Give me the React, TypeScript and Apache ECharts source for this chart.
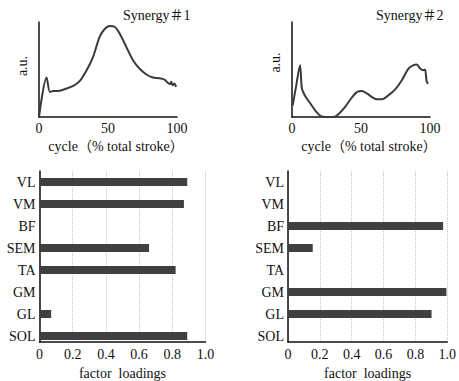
import React, { useEffect, useRef } from 'react';
import * as echarts from 'echarts';

const muscles = ['VL', 'VM', 'BF', 'SEM', 'TA', 'GM', 'GL', 'SOL'];
const loadings1 = [0.89, 0.87, 0, 0.66, 0.82, 0, 0.07, 0.89];
const loadings2 = [0, 0, 0.94, 0.15, 0, 0.96, 0.87, 0];

const syn1Cycle = [0, 5.5, 7.9, 10.3, 14, 20, 24.8, 29.6, 34.4, 39.2, 44, 47.6, 51.2, 54.8, 58.4, 63.2, 68, 72.8, 77.6, 82.5, 87.3, 90.9, 93.3, 95, 95.7, 96.9, 98.1, 99.3];
const syn1Value = [0, 0.415, 0.264, 0.275, 0.275, 0.3, 0.327, 0.38, 0.49, 0.634, 0.845, 0.926, 0.958, 0.95, 0.88, 0.74, 0.6, 0.51, 0.45, 0.415, 0.408, 0.394, 0.36, 0.345, 0.37, 0.335, 0.352, 0.317];

const syn2Cycle = [0.5, 2.9, 5.8, 7.2, 10, 13.7, 17.3, 20.9, 24.5, 30.5, 34, 38.8, 43.6, 47.2, 50.8, 54.4, 58, 61.6, 65.2, 70, 74.8, 79.6, 84.4, 88, 90.4, 92.8, 95.2, 96.4, 97.6, 98.8];
const syn2Value = [0.123, 0.317, 0.546, 0.3, 0.21, 0.134, 0.06, 0.01, 0, 0, 0.035, 0.113, 0.21, 0.264, 0.275, 0.246, 0.21, 0.187, 0.187, 0.23, 0.29, 0.387, 0.51, 0.546, 0.553, 0.51, 0.493, 0.5, 0.37, 0.352];

const titles = ['Synergy＃1', 'Synergy＃2'];
const cycleTicks = [0, 50, 100];
const loadingTicks = [0, 0.2, 0.4, 0.6, 0.8, 1.0];

export default function App() {
  const ref = useRef<HTMLDivElement>(null);
  useEffect(() => {
    const chart = echarts.init(ref.current!, undefined, { renderer: 'svg' });
    const font = "'Liberation Serif', 'Noto Sans CJK SC', serif";
    const txt = { fontFamily: font, fontSize: 14, color: '#111' };
    const axisLine = { show: true, lineStyle: { color: '#111', width: 1.5 } };

    const lineXAxis = (gridIndex: number) => ({
      type: 'value', gridIndex, min: cycleTicks[0], max: cycleTicks[2], interval: 50,
      axisLine, axisTick: { show: false }, splitLine: { show: false },
      axisLabel: { ...txt, margin: 4 },
      name: 'cycle（% total stroke）', nameLocation: 'middle', nameGap: 22,
      nameTextStyle: { ...txt, padding: [0, 0, 0, 16] },
    });
    const lineYAxis = (gridIndex: number) => ({
      type: 'value', gridIndex, min: 0, max: 1,
      axisLine, axisTick: { show: false }, axisLabel: { show: false }, splitLine: { show: false },
    });
    const barXAxis = (gridIndex: number) => ({ type: 'value', gridIndex, min: 0, max: 1, show: false });
    const barYAxis = (gridIndex: number) => ({
      type: 'category', gridIndex, data: muscles, inverse: true,
      axisLine: { show: false }, axisTick: { show: false },
      axisLabel: { ...txt, margin: 4 },
    });
    const frameXAxis = (gridIndex: number) => ({
      type: 'value', gridIndex, min: loadingTicks[0], max: loadingTicks[5], interval: 0.2,
      axisLine, axisTick: { show: false },
      axisLabel: { ...txt, margin: 5, formatter: (v: number) => (v === 0 ? '0' : v.toFixed(1)) },
      splitLine: { show: true, lineStyle: { type: 'dotted', color: '#c4c4c4', width: 1 } },
      name: 'factor  loadings', nameLocation: 'middle', nameGap: 24,
      nameTextStyle: { ...txt },
    });
    const frameYAxis = (gridIndex: number) => ({
      type: 'value', gridIndex, min: 0, max: 1,
      axisLine, axisTick: { show: false }, axisLabel: { show: false }, splitLine: { show: false },
    });

    const lineStyle = { color: '#3a3a3a', width: 2 };

    chart.setOption({
      animation: false,
      backgroundColor: '#fff',
      grid: [
        { left: 39, top: 22, width: 138, height: 95 },
        { left: 292, top: 22, width: 138, height: 95 },
        { left: 39.5, top: 171, width: 166, height: 176 },
        { left: 39.5, top: 171, width: 166, height: 171 },
        { left: 288, top: 171, width: 165, height: 176 },
        { left: 288, top: 171, width: 165, height: 171 },
      ],
      xAxis: [lineXAxis(0), lineXAxis(1), barXAxis(2), frameXAxis(3), barXAxis(4), frameXAxis(5)],
      yAxis: [lineYAxis(0), lineYAxis(1), barYAxis(2), frameYAxis(3), barYAxis(4), frameYAxis(5)],
      graphic: [
        { type: 'text', x: 123, y: 15, style: { text: titles[0], font: `14px ${font}`, fill: '#111', textVerticalAlign: 'middle' } },
        { type: 'text', x: 376, y: 15, style: { text: titles[1], font: `14px ${font}`, fill: '#111', textVerticalAlign: 'middle' } },
        { type: 'text', x: 22.7, y: 66, rotation: Math.PI / 2, style: { text: 'a.u.', font: `14px ${font}`, fill: '#111', textAlign: 'center', textVerticalAlign: 'middle' } },
        { type: 'text', x: 275.7, y: 62.5, rotation: Math.PI / 2, style: { text: 'a.u.', font: `14px ${font}`, fill: '#111', textAlign: 'center', textVerticalAlign: 'middle' } },
      ],
      series: [
        {
          type: 'line', xAxisIndex: 0, yAxisIndex: 0, showSymbol: false, smooth: 0.3,
          data: syn1Cycle.map((c, i) => [c, syn1Value[i]]), lineStyle,
        },
        {
          type: 'line', xAxisIndex: 1, yAxisIndex: 1, showSymbol: false, smooth: 0.3,
          data: syn2Cycle.map((c, i) => [c, syn2Value[i]]), lineStyle,
        },
        {
          type: 'bar', xAxisIndex: 2, yAxisIndex: 2, barWidth: 8,
          data: loadings1, itemStyle: { color: '#404040' },
        },
        {
          type: 'bar', xAxisIndex: 4, yAxisIndex: 4, barWidth: 8,
          data: loadings2, itemStyle: { color: '#404040' },
        },
      ],
    });
    return () => chart.dispose();
  }, []);
  return (
    <div
      ref={ref}
      style={{ position: 'absolute', left: 0, top: 0, width: 459, height: 381, background: '#fff' }}
    />
  );
}
